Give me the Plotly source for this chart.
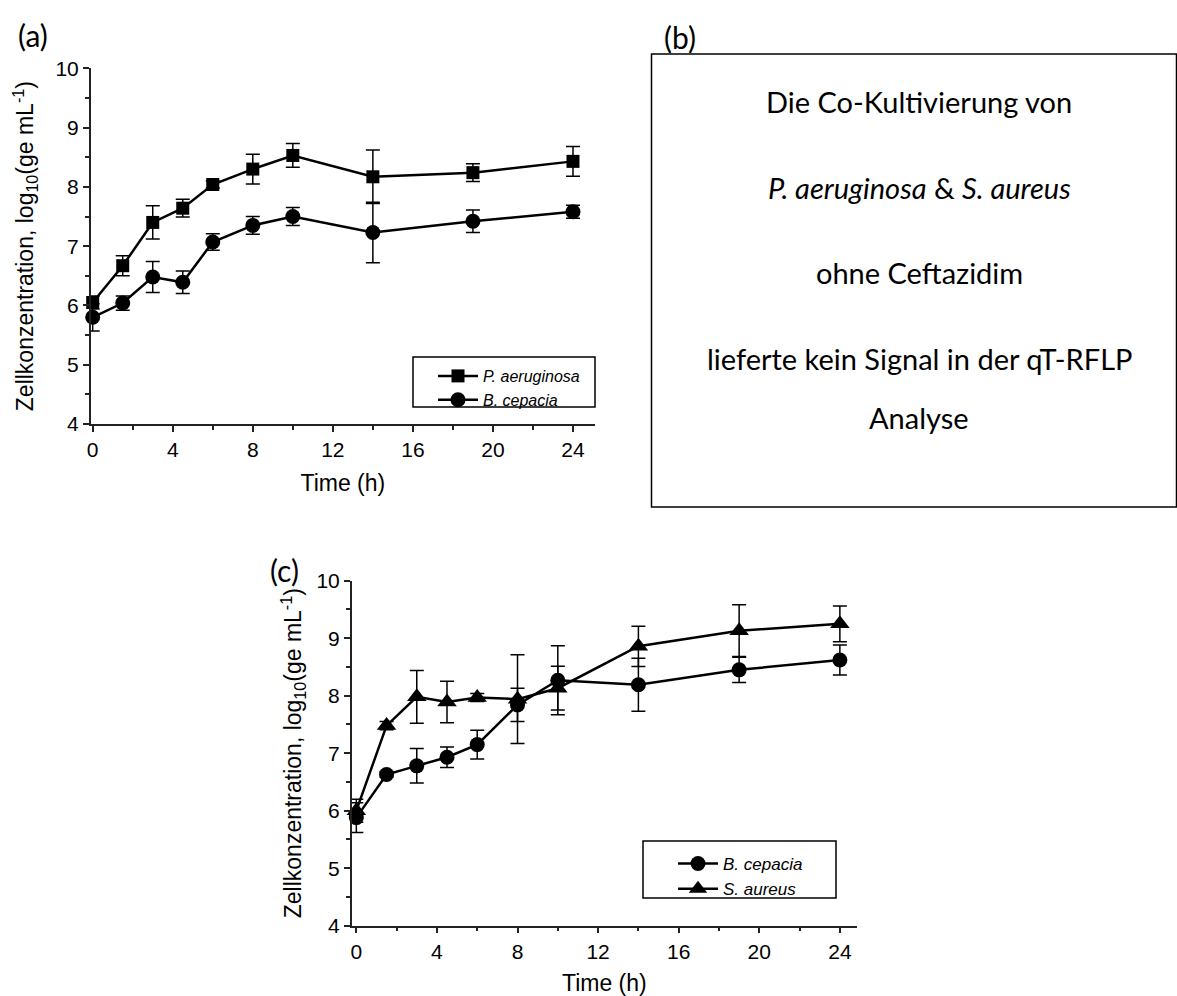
import plotly.graph_objects as go

# ---- data ----
time_h = [0, 1.5, 3, 4.5, 6, 8, 10, 14, 19, 24]

# (a) co-culture P. aeruginosa + B. cepacia
pa_a = [6.05, 6.67, 7.40, 7.64, 8.04, 8.30, 8.53, 8.17, 8.24, 8.43]
pa_a_err = [0.11, 0.17, 0.28, 0.15, 0.06, 0.25, 0.20, 0.45, 0.15, 0.25]
bc_a = [5.80, 6.04, 6.48, 6.39, 7.07, 7.35, 7.50, 7.23, 7.42, 7.58]
bc_a_err = [0.23, 0.12, 0.26, 0.19, 0.14, 0.15, 0.15, 0.51, 0.19, 0.11]

# (c) co-culture B. cepacia + S. aureus
bc_c = [5.88, 6.63, 6.78, 6.93, 7.15, 7.84, 8.27, 8.19, 8.45, 8.62]
bc_c_err = [0.26, 0.05, 0.30, 0.18, 0.25, 0.29, 0.60, 0.46, 0.22, 0.26]
sa_c = [6.00, 7.48, 7.98, 7.89, 7.97, 7.94, 8.13, 8.86, 9.13, 9.25]
sa_c_err = [0.20, 0.07, 0.46, 0.36, 0.07, 0.77, 0.38, 0.35, 0.45, 0.31]

panel_b_lines = [
    "Die Co-Kultivierung von",
    "<i>P. aeruginosa</i> &amp; <i>S. aureus</i>",
    "ohne Ceftazidim",
    "lieferte kein Signal in der qT-RFLP",
    "Analyse",
]

W, H = 1177, 996


def px(x):
    return x / W


def py(y):
    return 1 - y / H


AX_FONT = "Liberation Sans, Arial, sans-serif"
LBL_FONT = "Lato, Open Sans, sans-serif"


def series(x, y, err, name, symbol, size, xa, ya, leg):
    return go.Scatter(
        x=x, y=y, name=name, mode="lines+markers",
        xaxis=xa, yaxis=ya, legend=leg, cliponaxis=False,
        line=dict(color="black", width=2.5),
        marker=dict(symbol=symbol, size=size, color="black"),
        error_y=dict(type="data", array=err, visible=True,
                     color="black", thickness=1.5, width=7),
    )


fig = go.Figure()
fig.add_trace(series(time_h, pa_a, pa_a_err, "<i>P. aeruginosa</i>", "square", 13, "x", "y", "legend"))
fig.add_trace(series(time_h, bc_a, bc_a_err, "<i>B. cepacia</i>", "circle", 15, "x", "y", "legend"))
fig.add_trace(series(time_h, bc_c, bc_c_err, "<i>B. cepacia</i>", "circle", 15, "x2", "y2", "legend2"))
fig.add_trace(series(time_h, sa_c, sa_c_err, "<i>S. aureus</i>", "triangle-up", 17, "x2", "y2", "legend2"))

axis_common = dict(
    showline=True, linecolor="#222", linewidth=1.5, automargin=False,
    ticks="outside", ticklen=6, tickwidth=1.5, tickcolor="#222",
    showgrid=False, zeroline=False,
    tickfont=dict(family=AX_FONT, size=21, color="black"),
    minor=dict(ticks="outside", ticklen=4, tickwidth=1.5, tickcolor="#222", showgrid=False),
)

y_title = "Zellkonzentration, log<sub>10</sub>(ge mL<sup>-1</sup>)"
title_font = dict(family=AX_FONT, size=23, color="black")

fig.update_layout(
    width=W, height=H,
    template="none",
    margin=dict(l=0, r=0, t=0, b=0, autoexpand=False),
    paper_bgcolor="white", plot_bgcolor="white",
    showlegend=True,
    xaxis=dict(axis_common, domain=[px(90.7), px(595)], range=[-0.1, 25.1],
               tick0=0, dtick=4, minor_dtick=2, anchor="y",
               title=dict(text="Time (h)", font=title_font, standoff=15)),
    yaxis=dict(axis_common, domain=[py(424), py(68.3)], range=[4, 10],
               dtick=1, minor_dtick=0.5, anchor="x",
               title=dict(text=y_title, font=title_font, standoff=15)),
    xaxis2=dict(axis_common, domain=[px(351.7), px(857)], range=[-0.23, 24.85],
                tick0=0, dtick=4, minor_dtick=2, anchor="y2",
                title=dict(text="Time (h)", font=title_font, standoff=15)),
    yaxis2=dict(axis_common, domain=[py(925.7), py(580.7)], range=[4, 10],
                dtick=1, minor_dtick=0.5, anchor="x2",
                title=dict(text=y_title, font=title_font, standoff=8)),
    legend=dict(x=px(433), y=py(359), xanchor="left", yanchor="top",
                bgcolor="rgba(0,0,0,0)", borderwidth=0, itemwidth=40,
                font=dict(family=AX_FONT, size=16, color="black"),
                tracegroupgap=0),
    legend2=dict(x=px(673), y=py(846), xanchor="left", yanchor="top",
                 bgcolor="rgba(0,0,0,0)", borderwidth=0, itemwidth=40,
                 font=dict(family=AX_FONT, size=17, color="black"),
                 tracegroupgap=0),
)

shapes = [
    # legend frames
    dict(type="rect", xref="paper", yref="paper", x0=px(413), x1=px(595), y0=py(407), y1=py(357),
         line=dict(color="black", width=1.5)),
    dict(type="rect", xref="paper", yref="paper", x0=px(643), x1=px(836), y0=py(898), y1=py(841),
         line=dict(color="black", width=1.5)),
    # text panel (b)
    dict(type="rect", xref="paper", yref="paper", x0=px(651.5), x1=px(1176.5), y0=py(507), y1=py(54),
         line=dict(color="black", width=1.5)),
]

annotations = [
    dict(text="(a)", x=px(16), y=py(35), xanchor="left", yanchor="middle"),
    dict(text="(b)", x=px(662), y=py(37), xanchor="left", yanchor="middle"),
    dict(text="(c)", x=px(268), y=py(570), xanchor="left", yanchor="middle"),
]
for a in annotations:
    a.update(xref="paper", yref="paper", showarrow=False,
             font=dict(family=LBL_FONT, size=30, color="black"))

line_y = [101, 187, 272, 358, 417]
for txt, yy in zip(panel_b_lines, line_y):
    annotations.append(dict(text=txt, x=px(919), y=py(yy), xref="paper", yref="paper",
                            xanchor="center", yanchor="middle", showarrow=False,
                            font=dict(family=LBL_FONT, size=29, color="black")))

fig.update_layout(shapes=shapes, annotations=annotations)

fig.write_html("out.html")
